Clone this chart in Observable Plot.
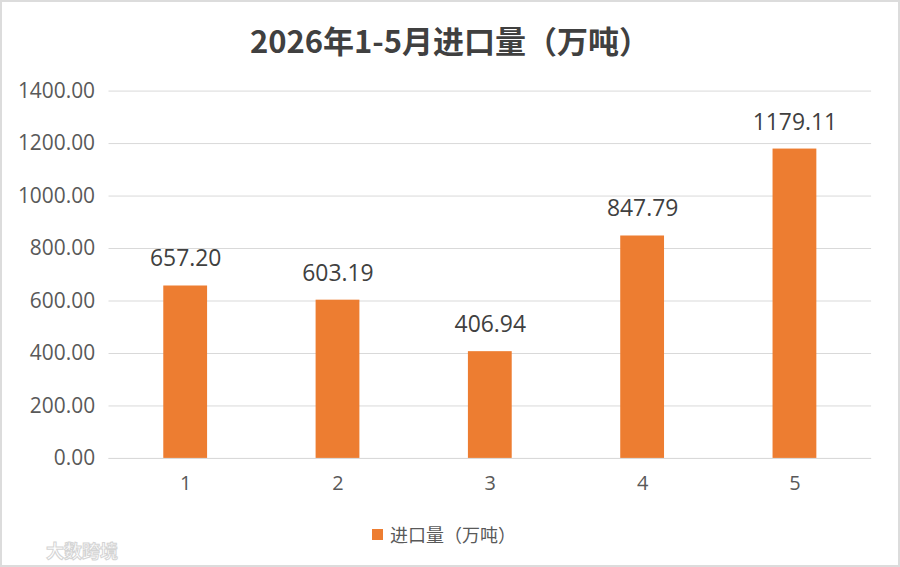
<!DOCTYPE html>
<html>
<head>
<meta charset="utf-8">
<script src="https://cdn.jsdelivr.net/npm/d3@7"></script>
<script src="https://cdn.jsdelivr.net/npm/@observablehq/plot@0.6"></script>
<style>
  html, body { margin: 0; padding: 0; background: #fff; }
  #chart {
    position: relative; width: 900px; height: 567px; box-sizing: border-box;
    border: 2px solid #dcdcdc; overflow: hidden;
    font-family: "Open Sans", "Noto Sans CJK SC", sans-serif;
  }
  #chart svg { position: absolute; left: -2px; top: -2px; }
  .title {
    position: absolute; left: 0; right: 0; top: 16px; text-align: center;
    font-family: "Noto Sans CJK SC", sans-serif; font-weight: bold;
    font-size: 31px; line-height: 44px; color: #404040;
  }
  .legend {
    position: absolute; left: 370px; top: 519px; display: flex; align-items: center;
    font-family: "Noto Sans CJK SC", sans-serif; font-size: 18px; line-height: 26px; color: #595959;
  }
  .legend .sw { width: 11px; height: 11px; background: #ED7D31; margin-right: 7px; }
  .mark {
    position: absolute; left: 44px; top: 535px;
    font-family: "Noto Sans CJK SC", sans-serif; font-weight: bold; font-size: 18px;
    color: #fff; -webkit-text-stroke: 1px #d4d4d4; letter-spacing: 0px;
  }
</style>
</head>
<body>
<div id="chart">
  <div class="title">2026年1-5月进口量（万吨）</div>
  <div class="legend"><span class="sw"></span>进口量（万吨）</div>
  <div class="mark">大数跨境</div>
</div>
<script>
// Monthly import volume, January–May 2026 (10k tonnes)
const months = ["1", "2", "3", "4", "5"];
const volumes = [657.20, 603.19, 406.94, 847.79, 1179.11];
const yTicks = [0, 200, 400, 600, 800, 1000, 1200, 1400];

const rows = months.map((m, i) => ({month: m, value: volumes[i]}));
const fmt = d3.format(".2f");

const plot = Plot.plot({
  width: 900,
  height: 567,
  marginTop: 91,
  marginBottom: 107,
  marginLeft: 109,
  marginRight: 25,
  style: {fontFamily: "'Open Sans', 'Noto Sans CJK SC', sans-serif", background: "transparent"},
  x: {domain: months, paddingInner: 0.71, paddingOuter: 0.355, label: null},
  y: {domain: [0, 1400], label: null},
  marks: [
    Plot.gridY(yTicks, {stroke: "#d9d9d9", strokeOpacity: 1, strokeWidth: 1}),
    Plot.axisY(yTicks, {tickFormat: fmt, tickSize: 0, tickPadding: 14, fontSize: 21, fill: "#595959", label: null}),
    Plot.axisX({tickSize: 0, tickPadding: 17, fontSize: 20, fill: "#595959", label: null}),
    Plot.barY(rows, {x: "month", y: "value", fill: "#ED7D31"}),
    Plot.ruleY([0], {stroke: "#d9d9d9", strokeWidth: 1}),
    Plot.text(rows, {x: "month", y: "value", text: d => fmt(d.value), dy: -27, fontSize: 23, fill: "#404040"})
  ]
});
document.getElementById("chart").appendChild(plot);
</script>
</body>
</html>
